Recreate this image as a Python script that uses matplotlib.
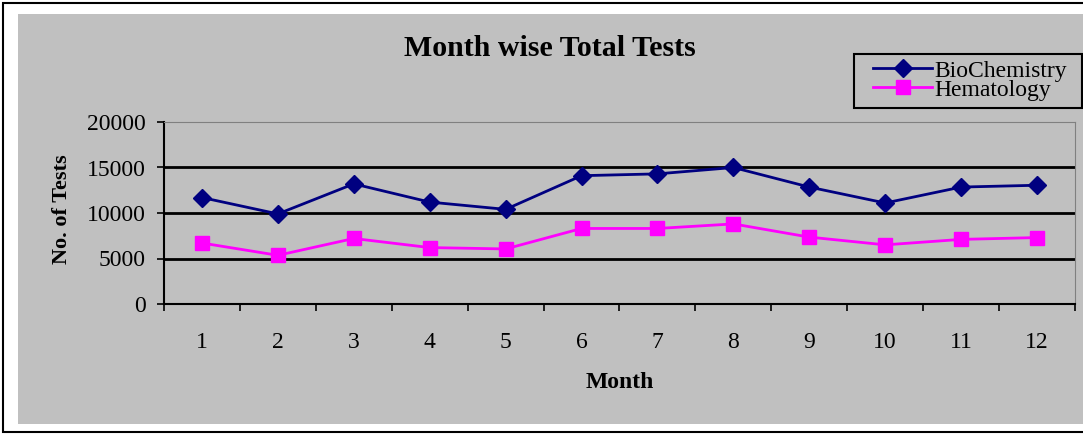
import numpy as np
import matplotlib.pyplot as plt
from matplotlib.patches import Rectangle

months = [1, 2, 3, 4, 5, 6, 7, 8, 9, 10, 11, 12]
biochemistry = [11700, 9900, 13200, 11200, 10400, 14100, 14300, 15000, 12850, 11100, 12850, 13050]
hematology = [6700, 5350, 7200, 6200, 6050, 8300, 8300, 8800, 7350, 6500, 7100, 7300]
yticks = [0, 5000, 10000, 15000, 20000]

plt.rcParams['font.family'] = ['Liberation Serif', 'DejaVu Serif']

W, H = 1083, 436
fig = plt.figure(figsize=(W / 100, H / 100), dpi=100)
fig.patch.set_facecolor('white')

# outer frame and grey chart area (pixel coords -> figure fraction)
def px(x0, y0, x1, y1):
    return (x0 / W, 1 - y1 / H), (x1 - x0) / W, (y1 - y0) / H

xy, w, h = px(3, 3, 1090, 432)
fig.patches.append(Rectangle(xy, w, h, transform=fig.transFigure,
                             facecolor='white', edgecolor='black', lw=1.5, zorder=-2))
xy, w, h = px(18, 14, 1090, 424)
fig.patches.append(Rectangle(xy, w, h, transform=fig.transFigure,
                             facecolor='#c0c0c0', edgecolor='none', zorder=-1))
# legend box
xy, w, h = px(854, 54, 1082, 108)
fig.patches.append(Rectangle(xy, w, h, transform=fig.transFigure,
                             facecolor='none', edgecolor='black', lw=1.5, zorder=5))

ax = fig.add_axes([164 / W, 1 - 304 / H, (1075 - 164) / W, (304 - 122) / H])
ax.set_zorder(2)
ax.set_facecolor('#c0c0c0')

ax.plot(months, biochemistry, color='#000080', lw=2, marker='D', ms=9,
        label='BioChemistry', zorder=3)
ax.plot(months, hematology, color='#ff00ff', lw=2, marker='s', ms=10,
        label='Hematology', zorder=3)

ax.set_xlim(0.5, 12.5)
ax.set_ylim(0, 20000)

# category axis: tick marks between months, labels at months
ax.set_xticks(np.arange(0.5, 13, 1))
ax.set_xticklabels([])
ax.set_xticks(months, minor=True)
ax.set_xticklabels([str(m) for m in months], minor=True)
ax.tick_params(axis='x', which='major', direction='out', length=5, width=1.2)
ax.tick_params(axis='x', which='minor', length=0, pad=20, labelsize=17)

ax.set_yticks(yticks)
ax.set_yticklabels([str(t) for t in yticks])
ax.tick_params(axis='y', direction='out', length=5, width=1.2, pad=8, labelsize=17)

for v in yticks[1:-1]:
    ax.axhline(v, color='black', lw=2, zorder=1)

ax.spines['left'].set_color('black')
ax.spines['left'].set_linewidth(1.5)
ax.spines['bottom'].set_color('black')
ax.spines['bottom'].set_linewidth(1.5)
ax.spines['top'].set_color('#808080')
ax.spines['right'].set_color('#808080')

fig.text(550 / W, 1 - 49 / H, 'Month wise Total Tests', ha='center', va='center',
         fontsize=21.5, fontweight='bold')
fig.text(620 / W, 1 - 382 / H, 'Month', ha='center', va='center',
         fontsize=17, fontweight='bold')
fig.text(62 / W, 1 - 209 / H, 'No. of Tests', ha='center', va='center',
         rotation=90, fontsize=16, fontweight='bold')

leg = ax.legend(loc='upper left', bbox_to_anchor=(873 / W, 1 - 60 / H),
                bbox_transform=fig.transFigure, fontsize=17, frameon=False,
                borderpad=0, labelspacing=-0.1,
                handlelength=2.5, handletextpad=0.1, borderaxespad=0)

fig.savefig('out.png', dpi=100)
